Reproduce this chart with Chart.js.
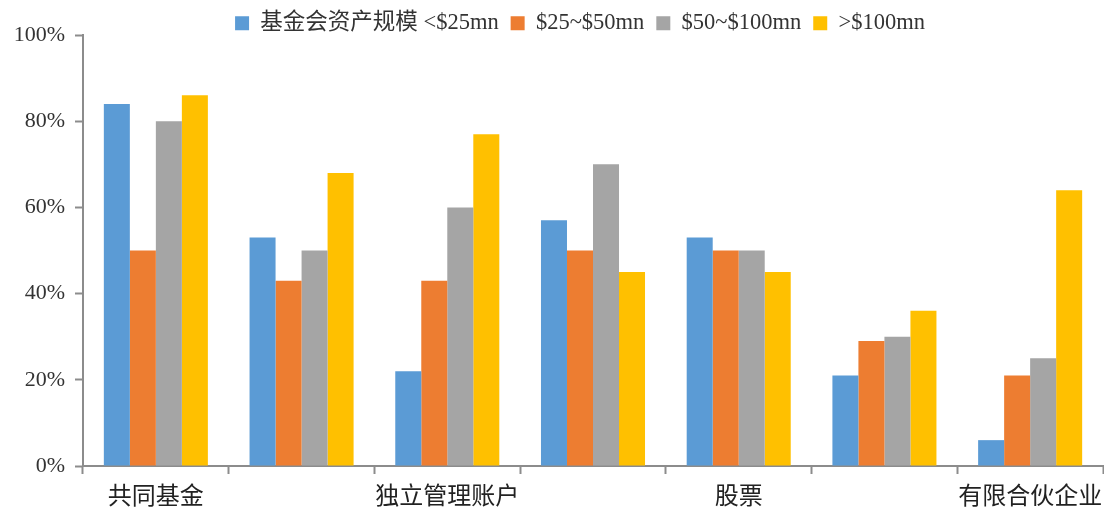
<!DOCTYPE html>
<html>
<head>
<meta charset="utf-8">
<script src="https://cdn.jsdelivr.net/npm/chart.js@4.4.1/dist/chart.umd.min.js"></script>
<style>
  html, body { margin: 0; padding: 0; background: #fff; }
  #wrap { width: 1104px; height: 508px; }
</style>
</head>
<body>
<div id="wrap"><canvas id="aumChart" width="1104" height="508"></canvas></div>
<script>
// Categories (only every other one is labelled on the axis)
const categories = ['共同基金', '', '独立管理账户', '', '股票', '', '有限合伙企业'];
const seriesNames = ['基金会资产规模 <$25mn', '$25~$50mn', '$50~$100mn', '>$100mn'];
const under25 = [84, 53, 22, 57, 53, 21, 6];
const from25to50 = [50, 43, 43, 50, 50, 29, 21];
const from50to100 = [80, 50, 60, 70, 50, 30, 25];
const over100 = [86, 68, 77, 45, 45, 36, 64];
const yTicks = [0, 20, 40, 60, 80, 100];

const colors = ['#5B9BD5', '#ED7D31', '#A5A5A5', '#FFC000'];
const axisColor = '#8c8c8c';
const fontStack = '"Liberation Serif", "Noto Sans CJK SC", serif';

const seriesData = [under25, from25to50, from50to100, over100];

// keep the legend box short and sit it a little right of the canvas centre
const legendFix = {
  id: 'legendFix',
  beforeLayout(chart) {
    const lg = chart.legend;
    if (lg && !lg._fixed) {
      const fit = lg.fit;
      lg.fit = function() {
        fit.call(this);
        this.height = 35;
      };
      lg._fixed = true;
    }
  },
  afterLayout(chart) {
    const lg = chart.legend;
    const shift = 580 - (lg.left + lg.right) / 2;
    lg.left += shift;
    lg.right += shift;
  }
};

const chart = new Chart(document.getElementById('aumChart'), {
  type: 'bar',
  data: {
    labels: categories,
    datasets: seriesData.map((d, i) => ({
      label: seriesNames[i],
      data: d,
      backgroundColor: colors[i],
      borderWidth: 0,
      categoryPercentage: 0.714,
      barPercentage: 1.0
    }))
  },
  plugins: [legendFix],
  options: {
    responsive: false,
    animation: false,
    layout: { padding: { left: 0, right: 1, top: 0, bottom: 0 } },
    plugins: {
      tooltip: { enabled: false },
      legend: {
        position: 'top',
        labels: {
          boxWidth: 14,
          boxHeight: 14,
          padding: 12,
          color: '#333',
          font: { family: fontStack, size: 22.5 }
        }
      }
    },
    scales: {
      x: {
        grid: {
          drawOnChartArea: false,
          drawTicks: true,
          tickLength: 8,
          tickWidth: 2,
          color: axisColor,
          offset: true
        },
        border: { color: axisColor, width: 2 },
        ticks: {
          autoSkip: false,
          maxRotation: 0,
          color: '#222',
          padding: 9,
          font: { family: fontStack, size: 24 }
        },
        afterFit: function(scale) {
          scale.height = 42;
          // let the last label hang past the axis end
          scale.paddingLeft = 0;
          scale.paddingRight = 0;
        }
      },
      y: {
        min: 0,
        max: 100,
        afterBuildTicks: function(scale) {
          scale.ticks = yTicks.map(v => ({ value: v }));
        },
        grid: {
          drawOnChartArea: false,
          drawTicks: true,
          tickLength: 8,
          tickWidth: 2,
          color: axisColor
        },
        border: { color: axisColor, width: 2 },
        ticks: {
          color: '#333',
          padding: 10,
          font: { family: fontStack, size: 22 },
          callback: v => v + '%'
        },
        afterFit: function(scale) { scale.width = 83; }
      }
    }
  }
});
</script>
</body>
</html>
